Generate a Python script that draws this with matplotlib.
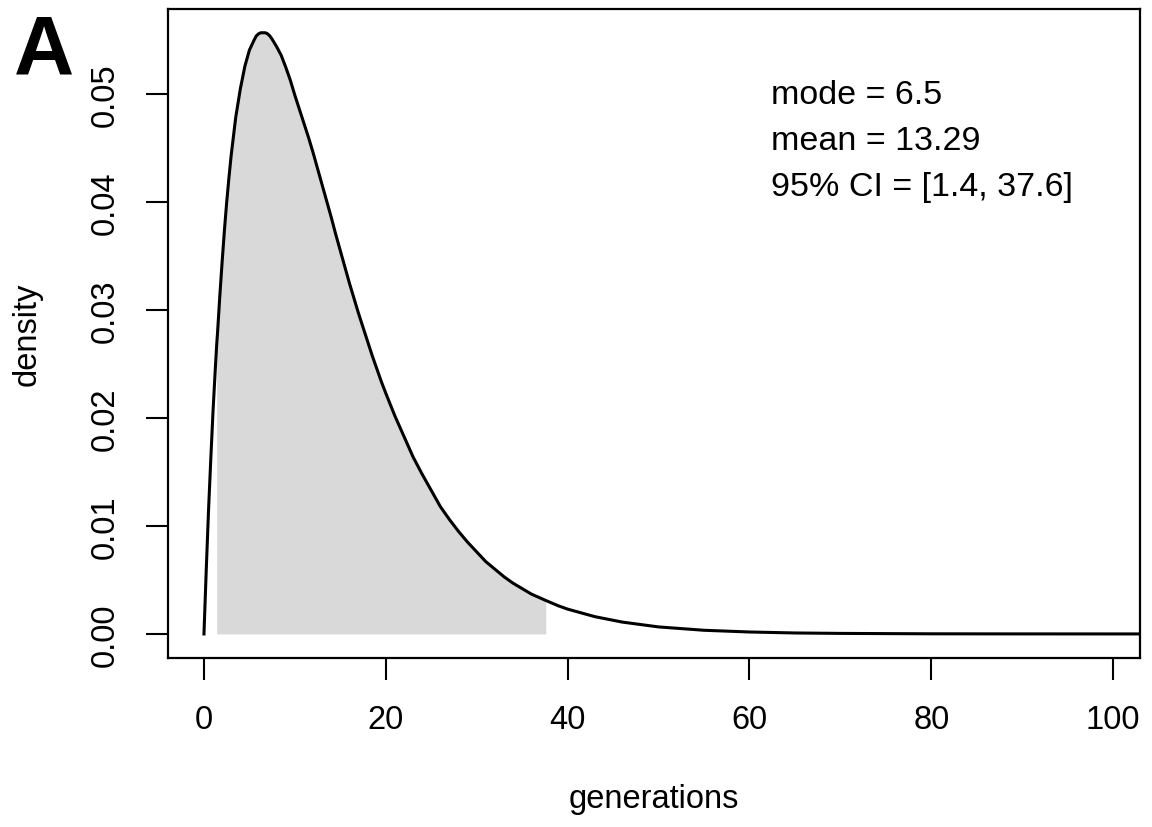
import numpy as np
import matplotlib.pyplot as plt

plt.rcParams['font.family'] = ['Liberation Sans', 'DejaVu Sans']

# density curve
gens = [0, 0.25, 0.5, 0.75, 1, 1.25, 1.4, 1.5, 1.75, 2, 2.25, 2.5, 2.75, 3, 3.5,
        4, 4.5, 5, 5.5, 5.75, 6, 6.25, 6.5, 6.75, 7, 7.25, 7.5, 8, 8.5, 9, 9.5,
        10, 10.5, 11, 11.5, 12, 12.5, 13, 13.5, 14, 14.5, 15, 15.5, 16, 16.5,
        17, 17.5, 18, 18.5, 19, 19.5, 20, 21, 22, 23, 24, 25, 26, 27, 28, 29,
        30, 31, 32, 33, 34, 35, 36, 37.6, 39, 40, 43, 46, 50, 55, 60, 65, 70,
        80, 90, 99, 105]
dens = [0.0, 0.0059, 0.0114, 0.0162, 0.0207, 0.0246, 0.0268, 0.0280, 0.0314,
        0.0345, 0.0374, 0.0400, 0.0423, 0.0444, 0.0479, 0.0505, 0.0526, 0.0541,
        0.0550, 0.0554, 0.0556, 0.0557, 0.0557, 0.0557, 0.0556, 0.0554, 0.0551,
        0.0544, 0.0536, 0.0525, 0.0513, 0.0499, 0.0486, 0.0473, 0.0460, 0.0446,
        0.0431, 0.0416, 0.0401, 0.0386, 0.0370, 0.0355, 0.0340, 0.0325, 0.0311,
        0.0297, 0.0284, 0.0271, 0.0258, 0.0246, 0.0234, 0.0223, 0.0202, 0.0183,
        0.0164, 0.0148, 0.0133, 0.0118, 0.0106, 0.0095, 0.0085, 0.0076, 0.0067,
        0.0060, 0.0053, 0.0047, 0.0042, 0.0037, 0.0031, 0.0026, 0.0023, 0.0016,
        0.0011, 0.00065, 0.00034, 0.00018, 0.00009, 0.00005, 0.000012,
        0.000003, 0.000001, 0.0000005]
ci_lo, ci_hi = 1.4, 37.6
stats_txt = ['mode = 6.5', 'mean = 13.29', '95% CI = [1.4, 37.6]']

x = np.array(gens)
y = np.array(dens)

fig = plt.figure(figsize=(11.52, 8.28), dpi=100)
ax = fig.add_axes([0.1458, 0.2041, 0.8438, 0.7838])

# shaded credible interval
m = (x >= ci_lo) & (x <= ci_hi)
ax.fill_between(x[m], 0, y[m], color='#d9d9d9', linewidth=0)
ax.plot(x, y, color='black', lw=2.2, solid_joinstyle='round')

ax.set_xlim(-3.96, 102.96)
ax.set_ylim(-0.00223, 0.0579)
ax.set_xticks([0, 20, 40, 60, 80, 100])
ax.set_yticks([0.0, 0.01, 0.02, 0.03, 0.04, 0.05])
ax.set_yticklabels(['0.00', '0.01', '0.02', '0.03', '0.04', '0.05'],
                   rotation=90, va='center')
ax.tick_params(axis='both', length=16, width=1.5, labelsize=23.5)
ax.tick_params(axis='x', pad=17)
ax.tick_params(axis='y', pad=18)
for s in ax.spines.values():
    s.set_linewidth(1.6)

ax.set_xlabel('generations', fontsize=23.5)
ax.set_ylabel('density', fontsize=23.5)
ax.xaxis.set_label_coords(0.5, -0.192)
ax.yaxis.set_label_coords(-0.1286, 0.5)

for i, t in enumerate(stats_txt):
    ax.text(62.4, 0.0500 - i * 0.00425, t, fontsize=24.5, va='center', ha='left')

fig.text(0.012, 0.937, 'A', fontsize=60, fontweight='bold', va='center', ha='left')

fig.savefig('out.png', dpi=100)
